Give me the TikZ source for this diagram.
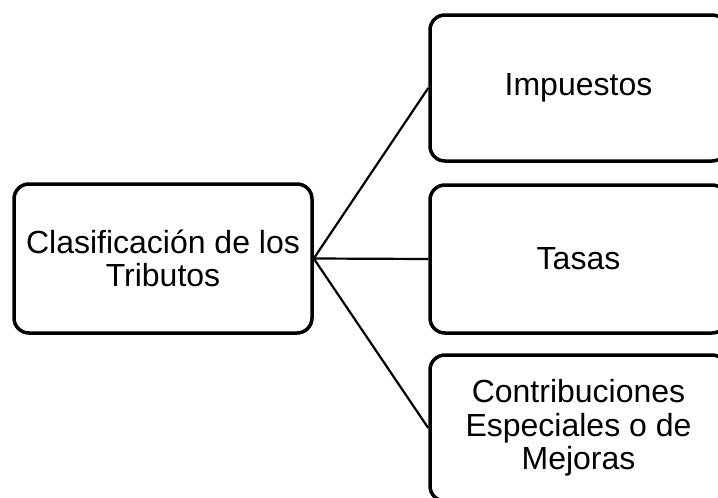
\documentclass[tikz,border=0pt]{standalone}
\usepackage{fontspec}
\setmainfont{Liberation Sans}
\begin{document}
\begin{tikzpicture}[x=1pt,y=-1pt,
  box/.style={draw=black,line width=3.5pt,rounded corners=15pt,fill=white,
    align=center,font=\fontsize{32}{33.5}\selectfont,inner sep=0pt},
  conn/.style={draw=black,line width=2.2pt}]
\useasboundingbox (0,0) rectangle (718,498);
\node[box,minimum width=298pt,minimum height=149pt] (root) at (163,258.5) {Clasificación de los\\Tributos};
\node[box,minimum width=297pt,minimum height=146pt] (imp) at (578.5,88) {Impuestos};
\node[box,minimum width=297pt,minimum height=148pt] (tas) at (578.5,259) {Tasas};
\node[box,minimum width=297pt,minimum height=146pt] (con) at (578.5,428) {Contribuciones\\Especiales o de\\Mejoras};
\draw[conn] (root.east) -- (imp.west);
\draw[conn] (root.east) -- (tas.west);
\draw[conn] (root.east) -- (con.west);
\end{tikzpicture}
\end{document}
